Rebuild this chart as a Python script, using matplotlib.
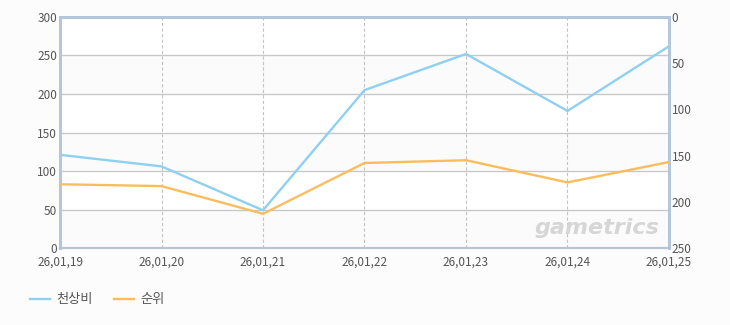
import matplotlib.pyplot as plt
import numpy as np

plt.rcParams['font.family'] = ['Noto Sans CJK KR', 'DejaVu Sans']

dates = ['26,01,19', '26,01,20', '26,01,21', '26,01,22', '26,01,23', '26,01,24', '26,01,25']
sales = [121, 106, 49, 205, 252, 178, 262]
rank = [181, 183, 213, 158, 155, 179, 157]

fig = plt.figure(figsize=(7.3, 3.25), dpi=100, facecolor='#fcfcfc')
ax = fig.add_axes([0.0822, 0.2369, 0.8342, 0.7108])
ax.set_facecolor('white')
x = np.arange(len(dates))

# light alternating bands
for lo in range(0, 300, 100):
    ax.axhspan(lo, lo + 50, color='#fbfbfb', zorder=0, lw=0)
for v in range(50, 300, 50):
    ax.axhline(v, color='#c8c8c8', lw=1, zorder=1)
for xi in x[1:-1]:
    ax.axvline(xi, color='#c4c4c4', lw=0.8, ls=(0, (3, 2)), zorder=1)

ax.plot(x, sales, color='#8fd0f0', lw=1.7, zorder=3, label='천상비')
ax.set_xlim(0, len(dates) - 1)
ax.set_ylim(0, 300)
ax.set_yticks(range(0, 301, 50))
ax.set_xticks(x)
ax.set_xticklabels(dates)

ax2 = ax.twinx()
ax2.plot(x, rank, color='#fbbd5c', lw=1.7, zorder=3, label='순위')
ax2.set_ylim(250, 0)
ax2.set_yticks(range(0, 251, 50))

for a in (ax, ax2):
    a.tick_params(length=0, labelsize=8.5, labelcolor='#555555', pad=2)
    for s in a.spines.values():
        s.set_color('#b3c6db')
    a.spines['left'].set_linewidth(2)
    a.spines['right'].set_linewidth(2)
    a.spines['top'].set_linewidth(2)
    a.spines['bottom'].set_linewidth(1.5)
    a.spines['bottom'].set_color('#b8c4d0')
ax.tick_params(axis='x', pad=5.5)

ax.text(0.985, 0.045, 'gametrics', transform=ax.transAxes, ha='right', va='bottom',
        fontsize=16, fontweight='bold', style='italic', color='#d6d6d6',
        family='DejaVu Sans', zorder=2)

h1, l1 = ax.get_legend_handles_labels()
h2, l2 = ax2.get_legend_handles_labels()
fig.legend(h1 + h2, l1 + l2, loc='center left', bbox_to_anchor=(0.041, 0.077),
           ncol=2, frameon=False, fontsize=9.5, handlelength=1.5, columnspacing=1.6,
           handletextpad=0.5, labelcolor='#555555', borderpad=0, borderaxespad=0)

fig.savefig('out.png', dpi=100, facecolor=fig.get_facecolor())
